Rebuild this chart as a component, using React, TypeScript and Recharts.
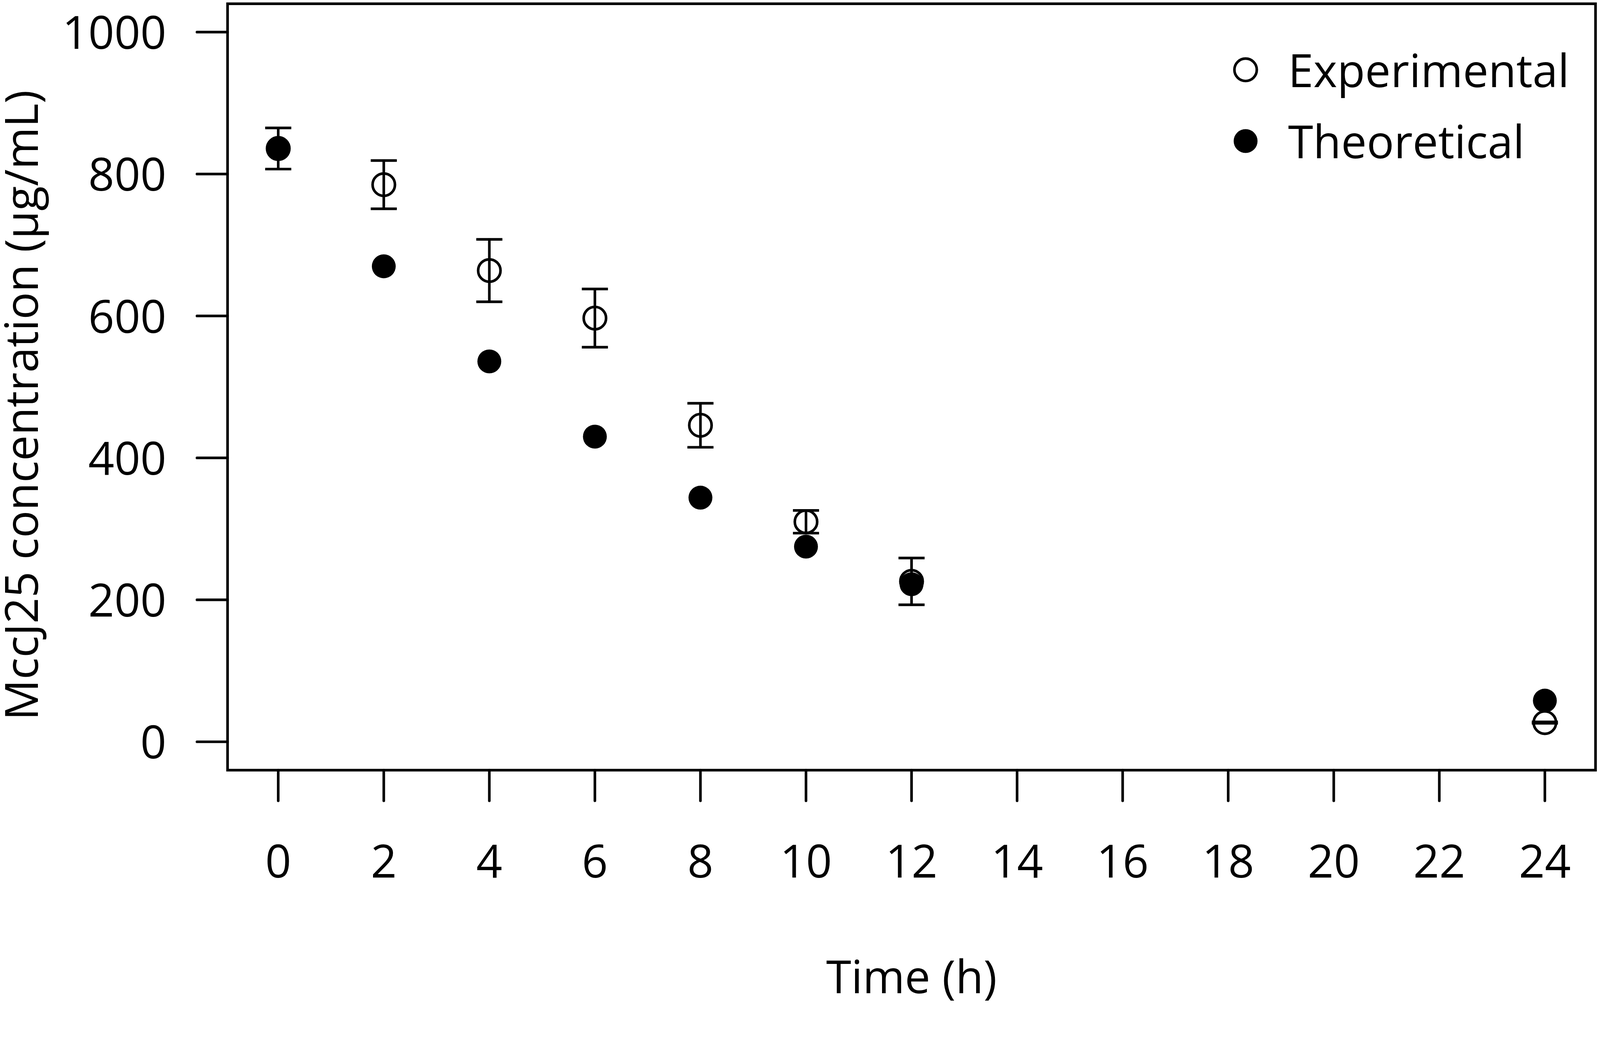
import React from "react";
import {
  ErrorBar,
  Label,
  Legend,
  ReferenceArea,
  Scatter,
  ScatterChart,
  XAxis,
  YAxis,
} from "recharts";

// sampling times (h)
const times = [0, 2, 4, 6, 8, 10, 12, 24];
// measured MccJ25 concentration (ug/mL) and its error
const experimental = [836, 785, 664, 597, 446, 310, 226, 27];
const experimentalErr = [29, 34, 44, 41, 31, 16, 33, 1];
// model prediction
const theoretical = [836, 670, 536, 430, 344, 275, 222, 58];

const xTicks = [0, 2, 4, 6, 8, 10, 12, 14, 16, 18, 20, 22, 24];
const yTicks = [0, 200, 400, 600, 800, 1000];
const seriesNames = ["Experimental", "Theoretical"];

const xDomain = [-0.96, 24.96];
const yDomain = [-40, 1040];

const W = 4289;
const H = 2695;
const FONT = "'Open Sans', sans-serif";
const FONT_SIZE = 122;
const LW = 7;
const R = 30;

const expData = times.map((t, i) => ({
  t,
  value: experimental[i],
  err: experimentalErr[i],
}));
const theoData = times.map((t, i) => ({ t, value: theoretical[i] }));

const OpenDot = (props: any) => {
  const { cx, cy } = props;
  if (cx == null || cy == null) return null;
  return <circle cx={cx} cy={cy} r={R} fill="none" stroke="#000" strokeWidth={LW} />;
};

const FilledDot = (props: any) => {
  const { cx, cy } = props;
  if (cx == null || cy == null) return null;
  return <circle cx={cx} cy={cy} r={R + 2} fill="#000" />;
};

const XTick = (props: any) => {
  const { x, y, payload } = props;
  return (
    <text x={x} y={y + 206} textAnchor="middle" fontFamily={FONT} fontSize={FONT_SIZE} fill="#000">
      {payload.value}
    </text>
  );
};

const YTick = (props: any) => {
  const { x, y, payload } = props;
  return (
    <text x={x - 82} y={y + 45} textAnchor="end" fontFamily={FONT} fontSize={FONT_SIZE} fill="#000">
      {payload.value}
    </text>
  );
};

const YTitle = (props: any) => {
  const vb = props.viewBox;
  const x = vb.x + 102;
  const y = vb.y + vb.height / 2 + 49;
  return (
    <text
      x={x}
      y={y}
      transform={`rotate(-90 ${x} ${y})`}
      textAnchor="middle"
      fontFamily={FONT}
      fontSize={FONT_SIZE}
      fill="#000"
    >
      MccJ25 concentration (μg/mL)
    </text>
  );
};

const XTitle = (props: any) => {
  const vb = props.viewBox;
  return (
    <text
      x={vb.x + vb.width / 2}
      y={vb.y + 598}
      textAnchor="middle"
      fontFamily={FONT}
      fontSize={FONT_SIZE}
      fill="#000"
    >
      Time (h)
    </text>
  );
};

const LegendBox = () => (
  <svg width={1000} height={380} style={{ display: "block" }}>
    {seriesNames.map((name, i) => (
      <g key={name}>
        {i === 0 ? (
          <circle cx={49} cy={87 + i * 191} r={R} fill="none" stroke="#000" strokeWidth={LW} />
        ) : (
          <circle cx={49} cy={87 + i * 191} r={R + 2} fill="#000" />
        )}
        <text x={163} y={133 + i * 191} fontFamily={FONT} fontSize={FONT_SIZE} fill="#000">
          {name}
        </text>
      </g>
    ))}
  </svg>
);

export default function App() {
  // the visible page can be smaller than the nominal size, so fit the figure to it
  const vw = typeof window !== "undefined" ? document.documentElement.clientWidth || window.innerWidth : W;
  const vh = typeof window !== "undefined" ? window.innerHeight : H;
  const s = Math.min(1, vw / W, vh / H);

  return (
    <div style={{ width: W * s, height: H * s, overflow: "hidden", background: "#fff" }}>
      <style>{`html,body{margin:0;overflow:hidden;background:#fff;}`}</style>
      <div style={{ width: W, height: H, transform: `scale(${s})`, transformOrigin: "0 0" }}>
        <ScatterChart
          width={W}
          height={H}
          margin={{ top: 10, right: 12, bottom: 0, left: 0 }}
        >
          <XAxis
            type="number"
            dataKey="t"
            domain={xDomain}
            ticks={xTicks}
            allowDataOverflow
            height={631}
            axisLine={false}
            tickSize={82}
            tickMargin={0}
            tickLine={{ stroke: "#000", strokeWidth: LW, strokeLinecap: "round" }}
            tick={<XTick />}
            interval={0}
          >
            <Label content={<XTitle />} />
          </XAxis>
          <YAxis
            type="number"
            dataKey="value"
            domain={yDomain}
            ticks={yTicks}
            allowDataOverflow
            width={610}
            axisLine={false}
            tickSize={82}
            tickMargin={0}
            tickLine={{ stroke: "#000", strokeWidth: LW, strokeLinecap: "round" }}
            tick={<YTick />}
            interval={0}
          >
            <Label content={<YTitle />} />
          </YAxis>
          <ReferenceArea
            x1={xDomain[0]}
            x2={xDomain[1]}
            y1={yDomain[0]}
            y2={yDomain[1]}
            fill="none"
            fillOpacity={0}
            stroke="#000"
            strokeWidth={LW}
            ifOverflow="visible"
          />
          <Scatter
            name={seriesNames[0]}
            data={expData}
            shape={<OpenDot />}
            isAnimationActive={false}
          >
            <ErrorBar
              dataKey="err"
              direction="y"
              width={35}
              stroke="#000"
              strokeWidth={LW}
              isAnimationActive={false}
            />
          </Scatter>
          <Scatter
            name={seriesNames[1]}
            data={theoData}
            shape={<FilledDot />}
            isAnimationActive={false}
          />
          <Legend
            layout="vertical"
            align="center"
            verticalAlign="middle"
            content={<LegendBox />}
            wrapperStyle={{ position: "absolute", left: 3290, top: 100, width: 1000 }}
          />
        </ScatterChart>
      </div>
    </div>
  );
}
